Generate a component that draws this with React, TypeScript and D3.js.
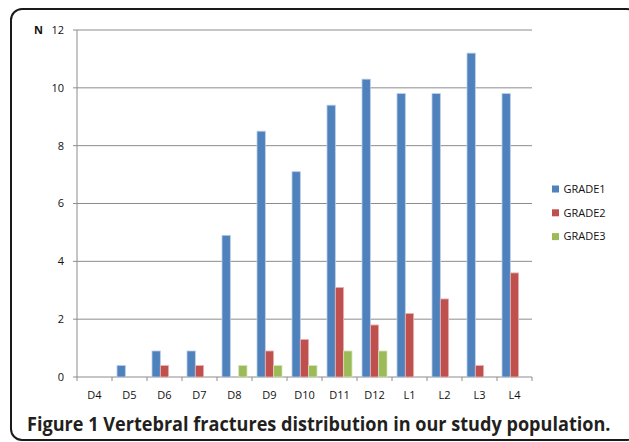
import React, { useLayoutEffect, useRef, useState } from "react";
import * as d3 from "d3";

const categories = ["D4", "D5", "D6", "D7", "D8", "D9", "D10", "D11", "D12", "L1", "L2", "L3", "L4"];
const grade1 = [0, 0.4, 0.9, 0.9, 4.9, 8.5, 7.1, 9.4, 10.3, 9.8, 9.8, 11.2, 9.8];
const grade2 = [0, 0, 0.4, 0.4, 0, 0.9, 1.3, 3.1, 1.8, 2.2, 2.7, 0.4, 3.6];
const grade3 = [0, 0, 0, 0, 0.4, 0.4, 0.4, 0.9, 0.9, 0, 0, 0, 0];
const seriesNames = ["GRADE1", "GRADE2", "GRADE3"];
const yTicks = [0, 2, 4, 6, 8, 10, 12];
const caption = "Figure 1 Vertebral fractures distribution in our study population.";

const fills = ["#4F81BD", "#C0504D", "#9BBB59"];
const edges = ["#B9CDE5", "#E6B9B8", "#D7E4BD"];

export default function App() {
  const W = 629, H = 442;
  const left = 77, right = 532, top = 30, bottom = 377;
  const x = d3.scaleBand<string>().domain(categories).range([left, right]).paddingInner(0).paddingOuter(0);
  const y = d3.scaleLinear().domain([0, 12]).range([bottom, top]);
  const groupW = x.bandwidth() * 0.714;
  const inner = d3.scaleBand<string>().domain(seriesNames).range([0, groupW]);
  const series = [grade1, grade2, grade3];
  const font = "'Open Sans', 'DejaVu Sans', sans-serif";

  const capRef = useRef<SVGTextElement>(null);
  const [sx, setSx] = useState(1);
  const capX = 27, capW = 584;
  useLayoutEffect(() => {
    if (capRef.current) {
      const w = capRef.current.getComputedTextLength();
      if (w > 0) setSx(capW / w);
    }
  }, []);

  return (
    <svg width={W} height={H} style={{ position: "absolute", left: 0, top: 0 }}>
      <rect x={0} y={0} width={W} height={H} fill="#fff" />
      <rect x={11} y={9} width={627} height={431} rx={11} ry={11} fill="none" stroke="#1a1a1a" strokeWidth={2} />
      {yTicks.map((t) => (
        <g key={t}>
          {t > 0 && <line x1={left} x2={right} y1={y(t)} y2={y(t)} stroke="#8c8c8c" strokeWidth={1} />}
          <line x1={left - 4} x2={left} y1={y(t)} y2={y(t)} stroke="#8c8c8c" strokeWidth={1} />
          <text x={64} y={y(t)} dy="0.35em" textAnchor="end" fontFamily={font} fontSize={11} fill="#111">{t}</text>
        </g>
      ))}
      <text x={34} y={y(12)} dy="0.35em" fontFamily={font} fontSize={11} fontWeight="bold" fill="#111">N</text>
      <line x1={left} x2={left} y1={top} y2={bottom} stroke="#8c8c8c" strokeWidth={1} />
      <line x1={left} x2={right} y1={bottom} y2={bottom} stroke="#8c8c8c" strokeWidth={1} />
      {categories.map((c) => (
        <line key={"t" + c} x1={x(c)!} x2={x(c)!} y1={bottom} y2={bottom + 4} stroke="#8c8c8c" strokeWidth={1} />
      ))}
      <line x1={right} x2={right} y1={bottom} y2={bottom + 4} stroke="#8c8c8c" strokeWidth={1} />
      {categories.map((c) => (
        <text key={"l" + c} x={x(c)! + x.bandwidth() / 2} y={395} dy="0.35em" textAnchor="middle" fontFamily={font} fontSize={11} fill="#111">{c}</text>
      ))}
      {series.map((vals, si) =>
        vals.map((v, i) => {
          if (v <= 0) return null;
          const bx = x(categories[i])! + (x.bandwidth() - groupW) / 2 + inner(seriesNames[si])!;
          return (
            <rect key={si + "-" + i} x={bx} y={y(v)} width={inner.bandwidth()} height={bottom - y(v)}
              fill={fills[si]} stroke={edges[si]} strokeWidth={0.8} />
          );
        })
      )}
      {seriesNames.map((n, i) => (
        <g key={n} transform={`translate(552, ${189 + i * 23.8})`}>
          <rect x={0} y={-3.5} width={7} height={7} fill={fills[i]} />
          <text x={11.5} y={0} dy="0.35em" fontFamily={font} fontSize={11} fill="#111">{n}</text>
        </g>
      ))}
      <g transform={`translate(${capX}, 431) scale(${sx}, 1)`}>
        <text ref={capRef} x={0} y={0} fontFamily={font} fontSize={20} fontWeight="bold" fill="#231F20">{caption}</text>
      </g>
    </svg>
  );
}
